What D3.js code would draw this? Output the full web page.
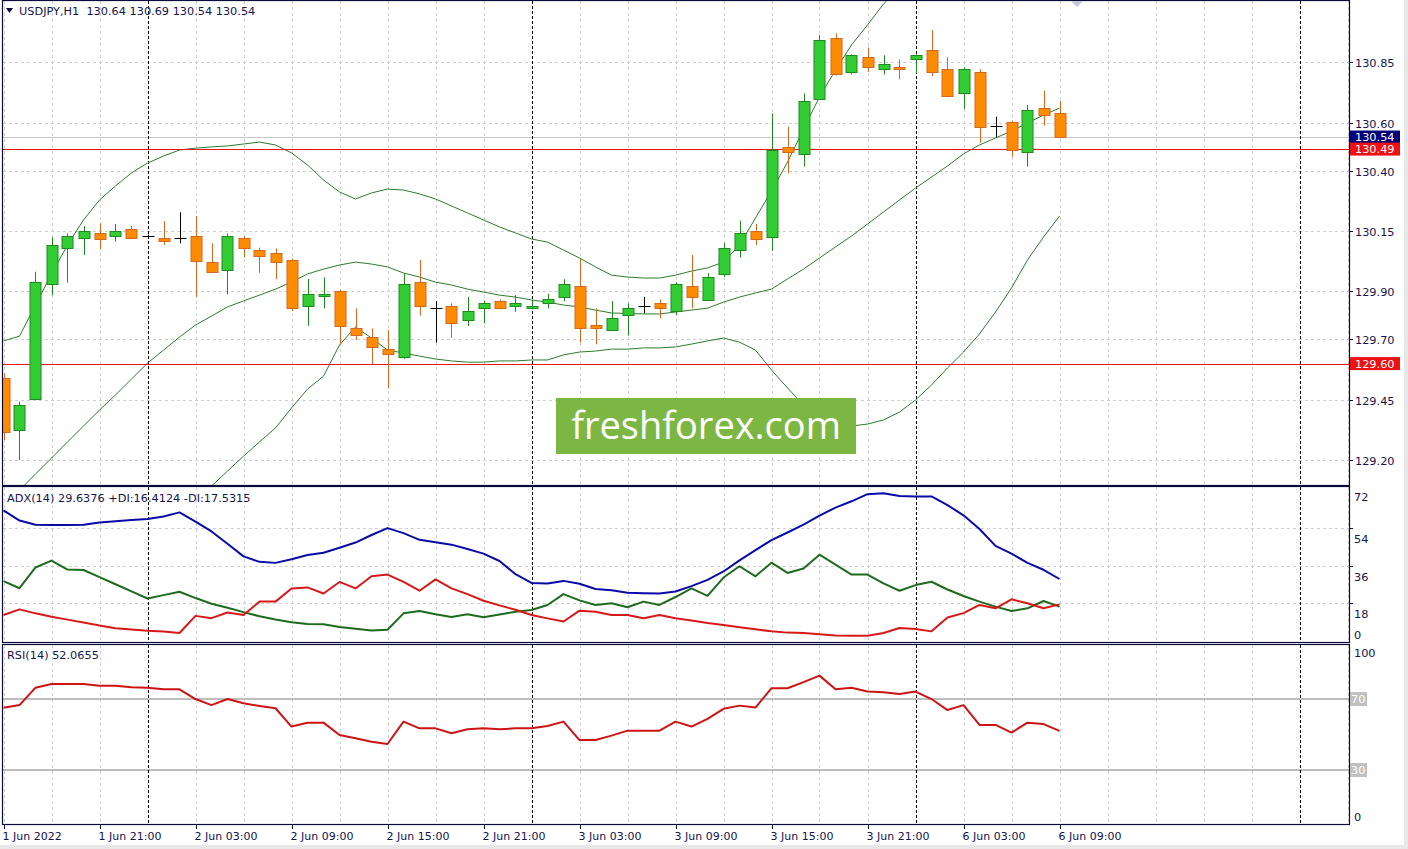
<!DOCTYPE html>
<html><head><meta charset="utf-8">
<script src="https://cdn.jsdelivr.net/npm/d3@7"></script>
<style>
body{margin:0;background:#fff;overflow:hidden;}
svg{display:block;font-family:"DejaVu Sans",sans-serif;}
</style></head>
<body><svg id="c" width="1408" height="849"></svg>
<script>
// ---------- data ----------
const symbolTitle = "USDJPY,H1  130.64 130.69 130.54 130.54";
const adxTitle = "ADX(14) 29.6376 +DI:16.4124 -DI:17.5315";
const rsiTitle = "RSI(14) 52.0655";
const timeLabels = ["1 Jun 2022","1 Jun 21:00","2 Jun 03:00","2 Jun 09:00","2 Jun 15:00","2 Jun 21:00","3 Jun 03:00","3 Jun 09:00","3 Jun 15:00","3 Jun 21:00","6 Jun 03:00","6 Jun 09:00"];
const timeLabelBars = [0,6,12,18,24,30,36,42,48,54,60,66];
const daySeparatorBars = [9,33,57,81];

const open  = [129.539,129.325,129.453,129.929,130.078,130.120,130.142,130.129,130.157,130.129,130.120,130.120,130.129,130.020,129.987,130.120,130.071,130.057,130.028,129.836,129.877,129.901,129.749,129.709,129.659,129.626,129.937,129.829,129.839,129.781,129.829,129.858,129.838,129.829,129.850,129.877,129.922,129.759,129.738,129.799,129.839,129.850,129.815,129.922,129.865,129.970,130.068,130.151,130.126,130.500,130.468,130.698,130.950,130.809,130.871,130.821,130.829,130.862,130.900,130.821,130.721,130.809,130.587,130.601,130.479,130.659,130.640];
const high  = [129.560,129.442,129.981,130.124,130.140,130.171,130.182,130.179,130.171,130.135,130.191,130.228,130.212,130.099,130.140,130.129,130.081,130.078,130.035,129.951,129.958,129.905,129.829,129.746,129.739,129.974,130.030,129.859,129.850,129.877,129.861,129.866,129.884,129.864,129.889,129.950,130.033,129.829,129.859,129.850,129.877,129.866,129.937,130.050,129.975,130.100,130.193,130.179,130.638,130.583,130.721,130.963,130.970,130.882,130.911,130.879,130.862,130.882,130.984,130.871,130.829,130.821,130.624,130.608,130.673,130.732,130.690];
const low   = [129.283,129.200,129.449,129.884,129.936,130.050,130.075,130.106,130.118,130.125,130.092,130.099,129.877,129.977,129.887,130.041,129.977,129.950,129.818,129.757,129.829,129.680,129.698,129.598,129.497,129.620,129.799,129.687,129.707,129.756,129.767,129.825,129.815,129.825,129.829,129.859,129.687,129.680,129.735,129.716,129.809,129.788,129.801,129.829,129.860,129.960,130.040,130.092,130.068,130.389,130.417,130.695,130.795,130.800,130.809,130.800,130.779,130.804,130.793,130.705,130.657,130.516,130.539,130.458,130.417,130.587,130.540];
const close = [129.317,129.428,129.940,130.092,130.129,130.150,130.118,130.150,130.120,130.129,130.106,130.120,130.027,129.979,130.129,130.077,130.048,130.020,129.829,129.887,129.887,129.757,129.718,129.666,129.638,129.929,129.836,129.829,129.767,129.818,129.850,129.829,129.850,129.838,129.867,129.929,129.746,129.746,129.788,129.829,129.839,129.829,129.929,129.877,129.960,130.078,130.140,130.117,130.486,130.479,130.689,130.943,130.800,130.879,130.829,130.842,130.821,130.879,130.809,130.707,130.821,130.580,130.587,130.486,130.652,130.628,130.540];

const bbUpper  = [129.694,129.714,129.843,129.972,130.092,130.196,130.279,130.337,130.391,130.432,130.461,130.486,130.494,130.499,130.503,130.511,130.519,130.507,130.474,130.424,130.362,130.312,130.283,130.308,130.324,130.320,130.304,130.283,130.254,130.225,130.196,130.167,130.142,130.117,130.104,130.071,130.038,130.001,129.967,129.959,129.955,129.955,129.967,129.984,129.997,130.021,130.092,130.204,130.316,130.436,130.573,130.706,130.818,130.922,131.005,131.092,131.158,131.208,131.237,131.258,131.291,131.291,131.258,131.216,131.167,131.138,131.109];
const bbMiddle = [129.009,129.075,129.142,129.208,129.275,129.341,129.407,129.470,129.536,129.602,129.656,129.710,129.760,129.797,129.835,129.860,129.884,129.909,129.938,129.972,129.992,130.009,130.021,130.013,130.001,129.976,129.959,129.938,129.926,129.909,129.897,129.884,129.876,129.864,129.855,129.843,129.835,129.822,129.810,129.808,129.806,129.806,129.814,129.822,129.830,129.855,129.876,129.893,129.909,129.951,129.992,130.038,130.084,130.129,130.179,130.229,130.279,130.328,130.374,130.420,130.470,130.507,130.536,130.565,130.598,130.631,130.660];
const bbLower  = [128.324,128.436,128.441,128.445,128.457,128.486,128.536,128.602,128.681,128.772,128.851,128.934,129.026,129.092,129.154,129.216,129.275,129.333,129.416,129.494,129.548,129.677,129.752,129.706,129.656,129.644,129.631,129.619,129.611,129.606,129.606,129.611,129.611,129.615,129.615,129.636,129.648,129.652,129.660,129.660,129.665,129.665,129.669,129.681,129.694,129.706,129.689,129.656,129.573,129.499,129.428,129.374,129.349,129.341,129.349,129.366,129.399,129.449,129.511,129.582,129.648,129.723,129.814,129.914,130.030,130.125,130.212];

const adx     = [62.4,57.5,55.5,55.4,55.4,55.5,56.6,57.2,57.8,58.3,59.4,61.4,57.0,52.3,46.4,40.4,37.8,37.3,39.0,41.1,42.1,44.5,47.0,50.6,53.9,51.5,48.3,47.2,46.0,43.9,41.7,38.2,31.9,27.7,27.5,28.7,27.3,24.8,24.2,23.0,22.8,22.7,23.6,26.2,29.2,33.2,38.5,43.4,48.2,51.8,55.6,59.9,63.7,66.7,70.1,70.5,69.2,69.0,69.0,64.9,60.0,53.5,45.4,41.7,37.3,34.0,29.6];
const plusDI  = [28.6,25.2,35.1,38.4,34.1,33.9,30.5,27.1,23.7,20.3,21.9,23.5,20.5,17.8,15.9,13.8,11.8,10.3,9.0,8.1,8.0,6.7,5.8,5.0,5.4,13.2,14.3,12.8,11.5,12.8,11.3,12.6,14.0,14.8,17.2,22.4,19.4,17.2,18.0,16.1,18.8,17.2,21.0,25.1,21.5,30.3,35.7,30.9,37.4,32.5,34.6,41.2,36.5,31.7,31.7,27.5,24.0,26.7,28.3,24.6,21.5,18.8,16.4,14.3,15.6,19.1,16.4];
const minusDI = [12.4,15.1,13.2,11.6,10.2,8.8,7.4,6.1,5.5,4.9,4.5,3.8,12.0,10.9,13.6,12.4,18.8,18.8,25.1,25.6,22.7,28.2,25.1,30.9,31.7,28.2,24.0,29.4,25.1,22.4,19.2,17.0,14.9,12.4,10.8,9.3,14.5,14.0,12.4,12.4,10.9,12.4,10.9,9.8,8.6,7.6,6.6,5.6,4.6,4.0,3.8,3.2,2.6,2.5,2.5,3.8,6.2,5.7,4.6,11.2,13.3,17.2,15.6,19.9,18.0,15.6,17.5];
const rsi     = [65.1,66.6,76.4,78.5,78.5,78.5,77.5,77.5,76.6,76.4,75.5,75.5,70.0,66.6,70.0,67.6,66.1,64.8,54.5,56.7,56.7,49.7,47.9,46.0,44.7,57.3,53.5,53.5,50.7,53.0,53.5,53.0,53.5,53.5,54.8,57.3,46.9,46.9,49.4,52.2,52.2,52.2,57.3,54.5,58.8,64.5,66.3,65.2,76.1,76.1,79.5,83.2,75.5,76.4,74.2,73.8,72.8,74.2,70.0,63.8,66.6,55.4,55.4,51.1,56.7,55.9,52.07];

const priceTicks = [130.85,130.60,130.40,130.15,129.90,129.70,129.45,129.20];
const adxTicks = [72,54,36,18,0];
const rsiLevels = [70,30];
const rsiTicks = [100,0];
const levelLines = [130.49,129.60];
const bidPrice = 130.54;
const watermarkText = "freshforex.com";

// ---------- layout ----------
const W = 1408, H = 849;
const L = 3, R = 1349;
const main = {top:1, bottom:485};
const pAdx = {top:487, bottom:642};
const pRsi = {top:645, bottom:824};
const navy = "#0a0a3c", txt = "#14144e", gridC = "#cfcfcf";
const FS = 11.3;
const bullFill="#32cd32", bullLine="#1f8a1f", bearFill="#ff8c00", bearLine="#d2691e";

const svg = d3.select("#c");
svg.append("rect").attr("width",W).attr("height",H).attr("fill","#fff");

const x = d3.scaleLinear().domain([0,84]).range([3.5, 3.5+16*84]);
const y = d3.scaleLinear().domain([129.20,130.85]).range([460,62.3]);
const yA = d3.scaleLinear().domain([0,72]).range([641,490.2]);
const yR = d3.scaleLinear().domain([0,100]).range([823.3,645.8]);
const nBars = open.length;
const idx = d3.range(nBars);

const defs = svg.append("defs");
[["cm",main],["ca",pAdx],["cr",pRsi]].forEach(([id,p])=>{
  defs.append("clipPath").attr("id",id).append("rect")
    .attr("x",L).attr("y",p.top).attr("width",R-L).attr("height",p.bottom-p.top);
});

// vertical grid
const gridBars = d3.range(0,85,3);
[main,pAdx,pRsi].forEach(p=>{
  svg.append("g").selectAll("line").data(gridBars.filter(b=>!daySeparatorBars.includes(b))).join("line")
    .attr("x1",d=>Math.round(x(d))+0.5).attr("x2",d=>Math.round(x(d))+0.5)
    .attr("y1",p.top).attr("y2",p.bottom)
    .attr("stroke",gridC).attr("stroke-dasharray","3,3");
});
svg.append("g").selectAll("line").data(priceTicks).join("line")
  .attr("x1",L).attr("x2",R).attr("y1",d=>Math.round(y(d))+0.5).attr("y2",d=>Math.round(y(d))+0.5)
  .attr("stroke",gridC).attr("stroke-dasharray","3,3");
svg.append("g").selectAll("line").data([54,36,18]).join("line")
  .attr("x1",L).attr("x2",R).attr("y1",d=>Math.round(yA(d))+0.5).attr("y2",d=>Math.round(yA(d))+0.5)
  .attr("stroke",gridC).attr("stroke-dasharray","3,3");

svg.append("g").selectAll("line").data(rsiLevels).join("line")
  .attr("x1",L).attr("x2",R).attr("y1",d=>yR(d)).attr("y2",d=>yR(d))
  .attr("stroke","#bdbdbd").attr("stroke-width",2);

svg.append("line").attr("x1",L).attr("x2",R).attr("y1",Math.round(y(bidPrice))+0.5).attr("y2",Math.round(y(bidPrice))+0.5)
  .attr("stroke","#c8c8c8");

[main,pAdx,pRsi].forEach(p=>{
  svg.append("g").selectAll("line").data(daySeparatorBars).join("line")
    .attr("x1",d=>Math.round(x(d))+0.5).attr("x2",d=>Math.round(x(d))+0.5)
    .attr("y1",p.top).attr("y2",p.bottom)
    .attr("stroke","#000").attr("stroke-dasharray","3,2");
});

// Bollinger bands
const gm = svg.append("g").attr("clip-path","url(#cm)");
[bbUpper,bbMiddle,bbLower].forEach(arr=>{
  gm.append("path").datum(idx)
    .attr("d",d3.line().x(i=>x(i)).y(i=>y(arr[i])))
    .attr("fill","none").attr("stroke","#2f7a2f").attr("stroke-width",1);
});

// level lines (red)
gm.append("g").selectAll("line").data(levelLines).join("line")
  .attr("x1",L).attr("x2",R).attr("y1",d=>Math.round(y(d))+0.5).attr("y2",d=>Math.round(y(d))+0.5)
  .attr("stroke","#e81515");

// candles
const cg = gm.append("g");
idx.forEach(i=>{
  const xi = Math.round(x(i))+0.5;
  const o=open[i], c=close[i];
  const bull = c>o, bear = c<o;
  const lc = bull?bullLine:(bear?bearLine:"#000");
  cg.append("line").attr("x1",xi).attr("x2",xi).attr("y1",y(high[i])).attr("y2",y(low[i]))
    .attr("stroke",lc);
  if(bull||bear){
    const top = y(Math.max(o,c)), bot = y(Math.min(o,c));
    cg.append("rect").attr("x",xi-5.5).attr("y",Math.round(top)+0.5).attr("width",11).attr("height",Math.max(1,Math.round(bot-top)))
      .attr("fill",bull?bullFill:bearFill).attr("stroke",lc);
  } else {
    cg.append("line").attr("x1",xi-6).attr("x2",xi+6).attr("y1",Math.round(y(c))+0.5).attr("y2",Math.round(y(c))+0.5)
      .attr("stroke","#000");
  }
});

// watermark
svg.append("rect").attr("x",556).attr("y",398).attr("width",300).attr("height",56).attr("fill","#7db743");
svg.append("text").attr("x",706).attr("y",439).attr("text-anchor","middle")
  .attr("font-family","'Open Sans',sans-serif").attr("font-size",38).attr("fill","#fff").text(watermarkText);

// ADX lines
const ga = svg.append("g").attr("clip-path","url(#ca)");
[[adx,"#0a0aa8"],[plusDI,"#1e6b1e"],[minusDI,"#d81818"]].forEach(([arr,col])=>{
  ga.append("path").datum(idx).attr("d",d3.line().x(i=>x(i)).y(i=>yA(arr[i])))
    .attr("fill","none").attr("stroke",col).attr("stroke-width",2).attr("stroke-linejoin","round");
});
const gr = svg.append("g").attr("clip-path","url(#cr)");
gr.append("path").datum(idx).attr("d",d3.line().x(i=>x(i)).y(i=>yR(rsi[i])))
  .attr("fill","none").attr("stroke","#cc1414").attr("stroke-width",2).attr("stroke-linejoin","round");

// panel borders
[main,pAdx,pRsi].forEach(p=>{
  svg.append("rect").attr("x",L-0.5).attr("y",p.top-0.5).attr("width",R-L+1).attr("height",p.bottom-p.top+1)
    .attr("fill","none").attr("stroke",navy).attr("stroke-width",1.2);
});

// chart shift marker
svg.append("path").attr("d","M1071,1 L1083,1 L1077,7 Z").attr("fill","#c4c8d8");

// titles
svg.append("path").attr("d","M6,8 L13,8 L9.5,13 Z").attr("fill",navy);
svg.append("text").attr("x",19).attr("y",15).attr("font-size",FS).attr("fill",txt).attr("xml:space","preserve").text(symbolTitle);
svg.append("text").attr("x",7).attr("y",502).attr("font-size",FS).attr("fill",txt).text(adxTitle);
svg.append("text").attr("x",7).attr("y",659).attr("font-size",FS).attr("fill",txt).text(rsiTitle);

// price axis
const ax = svg.append("g");
priceTicks.forEach(v=>{
  const yy = Math.round(y(v))+0.5;
  ax.append("line").attr("x1",R).attr("x2",R+4).attr("y1",yy).attr("y2",yy).attr("stroke",navy);
  ax.append("text").attr("x",1355).attr("y",yy+4).attr("font-size",FS).attr("fill",txt).text(v.toFixed(2));
});
function tag(v,bg){
  const yy = y(v);
  ax.append("rect").attr("x",1350).attr("y",yy-6.5).attr("width",50).attr("height",13).attr("fill",bg);
  ax.append("text").attr("x",1355).attr("y",yy+4).attr("font-size",FS).attr("fill","#fff").text(v.toFixed(2));
}
tag(bidPrice,"#00007a");
levelLines.forEach(v=>tag(v,"#ee1111"));

adxTicks.forEach(v=>{
  const yy = Math.round(yA(v))+0.5;
  if(v!==0 && v!==72) ax.append("line").attr("x1",R).attr("x2",R+4).attr("y1",yy).attr("y2",yy).attr("stroke",navy);
  const ty = v===72 ? 501 : (v===0 ? 639 : yy+14);
  ax.append("text").attr("x",1354).attr("y",ty).attr("font-size",FS).attr("fill",txt).text(v);
});
rsiTicks.forEach(v=>{
  const ty = v===100 ? 657 : 821;
  ax.append("text").attr("x",1354).attr("y",ty).attr("font-size",FS).attr("fill",txt).text(v);
});
rsiLevels.forEach(v=>{
  const yy = yR(v);
  ax.append("rect").attr("x",1350).attr("y",yy-7).attr("width",17).attr("height",14).attr("fill","#c0c0c0");
  ax.append("text").attr("x",1351).attr("y",yy+4).attr("font-size",FS).attr("fill","#fff").text(v);
});

timeLabelBars.forEach((b,k)=>{
  const xx = Math.round(x(b))+0.5;
  ax.append("line").attr("x1",xx).attr("x2",xx).attr("y1",824).attr("y2",829).attr("stroke",navy);
  ax.append("text").attr("x",xx-2).attr("y",840).attr("font-size",11).attr("fill",txt).text(timeLabels[k]);
});
svg.append("rect").attr("x",1404).attr("y",0).attr("width",4).attr("height",H).attr("fill","#e8e8e8");
svg.append("rect").attr("x",0).attr("y",845).attr("width",W).attr("height",4).attr("fill","#e8e8e8");
</script></body></html>
